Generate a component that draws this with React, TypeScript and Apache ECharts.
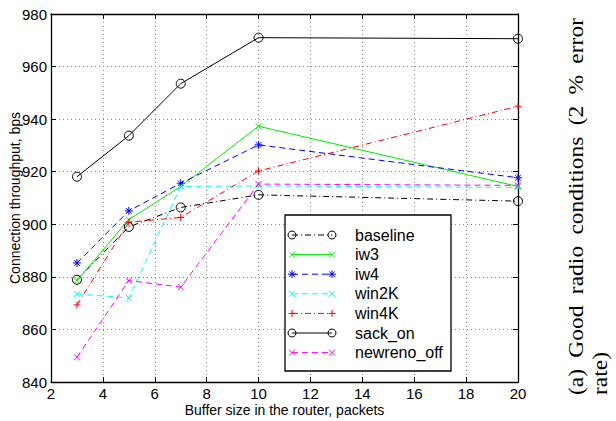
import React, { useEffect, useRef } from "react";
import * as echarts from "echarts";

const bufferSizes = [3, 5, 7, 10, 20];
const baseline = [878.9, 899.0, 906.4, 911.2, 908.8];
const iw3 = [878.6, 901.8, 914.4, 937.3, 914.4];
const iw4 = [885.3, 905.1, 915.6, 930.2, 917.7];
const win2K = [873.5, 872.0, 914.4, 914.6, 914.0];
const win4K = [869.3, 900.8, 902.6, 920.3, 944.9];
const sackOn = [918.1, 933.7, 953.5, 971.0, 970.6];
const newrenoOff = [849.4, 878.6, 876.1, 915.3, 914.8];

const xName = "Buffer size in the router, packets";
const yName = "Connection throughput, bps";
const captionLine1 = ["(a)", "Good", "radio", "conditions", "(2", "%", "error"];
const captionLine2 = "rate)";

const SANS = '"Liberation Sans", Arial, Helvetica, sans-serif';
const SERIF = '"Liberation Serif", "Times New Roman", serif';

type Marker = "o" | "x" | "+" | "*";
const seriesDefs: { name: string; data: number[]; color: string; dash: number[] | "solid"; marker: Marker }[] = [
  { name: "baseline", data: baseline, color: "#000000", dash: [6, 3, 1, 3], marker: "o" },
  { name: "iw3", data: iw3, color: "#00ee00", dash: "solid", marker: "x" },
  { name: "iw4", data: iw4, color: "#0000ff", dash: [6, 4], marker: "*" },
  { name: "win2K", data: win2K, color: "#00ffff", dash: [6, 4], marker: "x" },
  { name: "win4K", data: win4K, color: "#ff0000", dash: [6, 3, 1, 3], marker: "+" },
  { name: "sack_on", data: sackOn, color: "#000000", dash: "solid", marker: "o" },
  { name: "newreno_off", data: newrenoOff, color: "#ff00ff", dash: [6, 4], marker: "x" },
];

const symbolFor: Record<Marker, string> = {
  o: "circle",
  x: "path://M0,0L8,8M8,0L0,8",
  "+": "path://M4,0L4,8M0,4L8,4",
  "*": "path://M4,0L4,8M0,4L8,4M1.2,1.2L6.8,6.8M6.8,1.2L1.2,6.8",
};
const symbolSizeFor: Record<Marker, number> = { o: 9, x: 6, "+": 7, "*": 8 };

function seg(x1: number, y1: number, x2: number, y2: number, color: string, dash?: number[] | "solid") {
  return {
    type: "line",
    shape: { x1, y1, x2, y2 },
    style: { stroke: color, lineWidth: 1, lineDash: dash && dash !== "solid" ? dash : null },
    z: 100,
  };
}

function markerEls(kind: Marker, cx: number, cy: number, color: string): any[] {
  const s = kind === "x" ? 3 : kind === "+" ? 3.5 : 4;
  if (kind === "o") {
    return [{ type: "circle", shape: { cx, cy, r: 4 }, style: { fill: "none", stroke: color, lineWidth: 1 }, z: 100 }];
  }
  if (kind === "x") {
    return [seg(cx - s, cy - s, cx + s, cy + s, color), seg(cx + s, cy - s, cx - s, cy + s, color)];
  }
  if (kind === "+") {
    return [seg(cx - s, cy, cx + s, cy, color), seg(cx, cy - s, cx, cy + s, color)];
  }
  const d = 2.8;
  return [
    seg(cx - s, cy, cx + s, cy, color),
    seg(cx, cy - s, cx, cy + s, color),
    seg(cx - d, cy - d, cx + d, cy + d, color),
    seg(cx + d, cy - d, cx - d, cy + d, color),
  ];
}

function measure(text: string, font: string): number {
  const c = document.createElement("canvas").getContext("2d");
  if (!c) return text.length * 10;
  c.font = font;
  return c.measureText(text).width;
}

export default function App() {
  const ref = useRef<HTMLDivElement>(null);
  useEffect(() => {
    if (!ref.current) return;
    const chart = echarts.init(ref.current, null, { renderer: "svg" });

    const gridLeft = 51;
    const gridTop = 14;
    const gridW = 467;
    const gridH = 368;

    const series = seriesDefs.map((s) => ({
      name: s.name,
      type: "line",
      data: bufferSizes.map((x, i) => [x, s.data[i]]),
      symbol: symbolFor[s.marker],
      symbolSize: symbolSizeFor[s.marker],
      symbolKeepAspect: true,
      showSymbol: true,
      lineStyle: { color: s.color, width: 1, type: s.dash },
      itemStyle: {
        color: s.marker === "o" ? "transparent" : s.color,
        borderColor: s.color,
        borderWidth: 1,
      },
      emphasis: { disabled: true },
      z: 3,
    }));

    // legend drawn as graphic
    const lgX = 285, lgY = 215, lgW = 166, lgH = 156;
    const legendEls: any[] = [
      { type: "rect", shape: { x: lgX, y: lgY, width: lgW, height: lgH }, style: { fill: "#fff", stroke: "#000", lineWidth: 1.3 }, z: 99 },
    ];
    seriesDefs.forEach((s, i) => {
      const cy = lgY + 20 + i * 19.6;
      const x1 = 292, x2 = 332;
      legendEls.push(seg(x1, cy, x2, cy, s.color, s.dash));
      legendEls.push(...markerEls(s.marker, x1, cy, s.color));
      legendEls.push(...markerEls(s.marker, x2, cy, s.color));
      legendEls.push({
        type: "text",
        x: 355,
        y: cy,
        style: { text: s.name, font: `16px ${SANS}`, fill: "#000", textAlign: "left", verticalAlign: "middle", textVerticalAlign: "middle" },
        z: 100,
      });
    });

    // caption (justified like LaTeX)
    const capFont = `21px ${SERIF}`;
    const capStretch = 1.12;
    const capStart = 395, capEnd = 18;
    const widths = captionLine1.map((w) => measure(w, capFont) * capStretch);
    const total = widths.reduce((a, b) => a + b, 0);
    const gap = (capStart - capEnd - total) / (captionLine1.length - 1);
    const captionEls: any[] = [];
    let pos = capStart;
    captionLine1.forEach((w, i) => {
      captionEls.push({
        type: "text",
        x: 576,
        y: pos,
        rotation: Math.PI / 2,
        scaleX: capStretch,
        style: { text: w, font: capFont, fill: "#000", textAlign: "left", verticalAlign: "middle", textVerticalAlign: "middle" },
      });
      pos -= widths[i] + gap;
    });
    captionEls.push({
      type: "text",
      x: 600,
      y: capStart,
      rotation: Math.PI / 2,
      scaleX: capStretch,
      style: { text: captionLine2, font: capFont, fill: "#000", textAlign: "left", verticalAlign: "middle", textVerticalAlign: "middle" },
    });

    const axisLine = { show: true, lineStyle: { color: "#000", width: 1.3 } };
    const tickIn = { show: true, inside: true, length: 5, lineStyle: { color: "#000", width: 1 } };
    const labelStyle = { color: "#000", fontSize: 15, fontFamily: SANS };
    const split = { show: true, lineStyle: { color: "#888", width: 1, type: [1, 3] } };

    const option: any = {
      animation: false,
      backgroundColor: "#fff",
      grid: { left: gridLeft, top: gridTop, width: gridW, height: gridH, containLabel: false, outerBoundsMode: "none" },
      xAxis: [
        {
          type: "value", min: 2, max: 20, interval: 2, position: "bottom",
          axisLine, axisTick: tickIn, splitLine: split,
          axisLabel: { ...labelStyle, margin: 4 },
          name: xName, nameLocation: "middle", nameGap: 21, nameMoveOverlap: false,
          nameTextStyle: { color: "#000", fontSize: 14, fontFamily: SANS },
        },
        {
          type: "value", min: 2, max: 20, interval: 2, position: "top",
          axisLine, axisTick: tickIn, splitLine: { show: false }, axisLabel: { show: false },
        },
      ],
      yAxis: [
        {
          type: "value", min: 840, max: 980, interval: 20, position: "left",
          axisLine, axisTick: tickIn, splitLine: split,
          axisLabel: { ...labelStyle, margin: 4 },
          name: yName, nameLocation: "middle", nameGap: 29, nameMoveOverlap: false,
          nameTextStyle: { color: "#000", fontSize: 14, fontFamily: SANS },
        },
        {
          type: "value", min: 840, max: 980, interval: 20, position: "right",
          axisLine, axisTick: tickIn, splitLine: { show: false }, axisLabel: { show: false },
        },
      ],
      series,
      graphic: [...legendEls, ...captionEls],
    };
    chart.setOption(option);
    return () => chart.dispose();
  }, []);
  return <div ref={ref} style={{ position: "absolute", left: 0, top: 0, width: 616, height: 421 }} />;
}
